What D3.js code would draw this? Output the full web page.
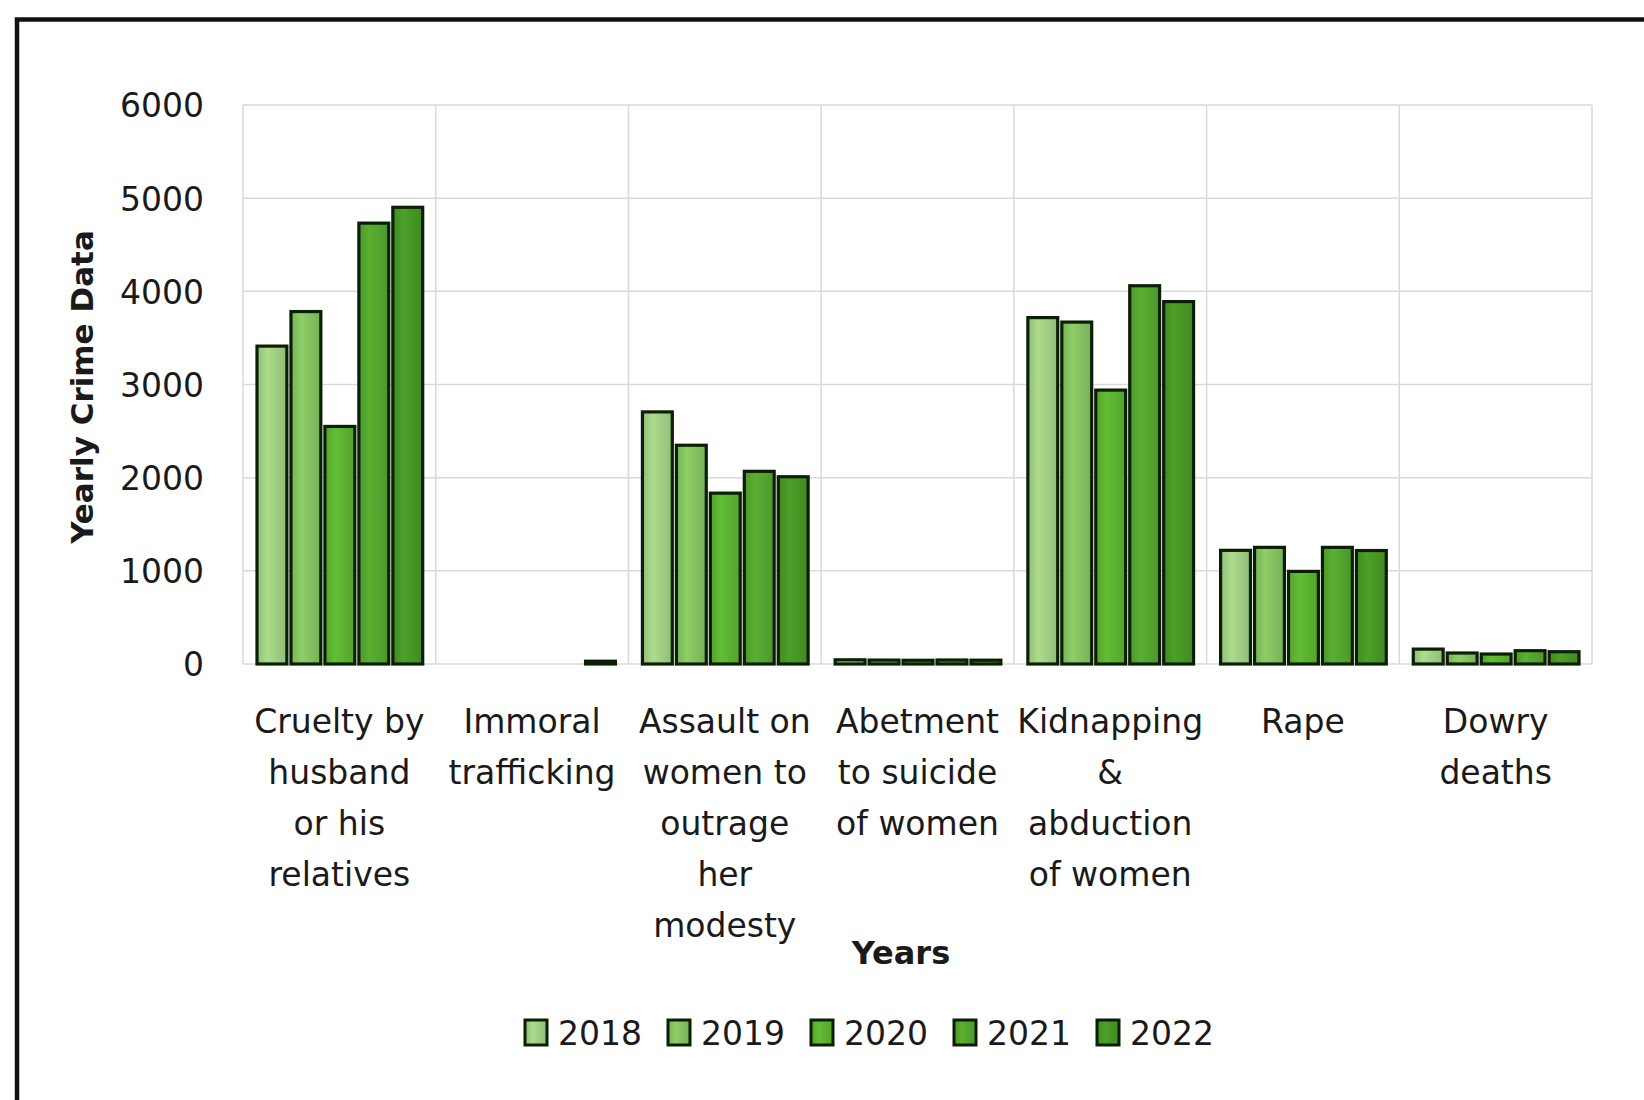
<!DOCTYPE html>
<html>
<head>
<meta charset="utf-8">
<script src="https://cdn.jsdelivr.net/npm/d3@7"></script>
<style>
  html, body { margin: 0; padding: 0; background: #ffffff; }
  svg { display: block; }
  text { font-family: "DejaVu Sans", sans-serif; fill: #1a1a1a; }
</style>
</head>
<body>
<svg id="chart" width="1644" height="1100"></svg>
<script>
// ---- data ----
const categories = [
  "Cruelty by husband or his relatives",
  "Immoral trafficking",
  "Assault on women to outrage her modesty",
  "Abetment to suicide of women",
  "Kidnapping & abduction of women",
  "Rape",
  "Dowry deaths"
];
const categoryLines = [
  ["Cruelty by", "husband", "or his", "relatives"],
  ["Immoral", "trafficking"],
  ["Assault on", "women to", "outrage", "her", "modesty"],
  ["Abetment", "to suicide", "of women"],
  ["Kidnapping", "&", "abduction", "of women"],
  ["Rape"],
  ["Dowry", "deaths"]
];
const years = ["2018", "2019", "2020", "2021", "2022"];
const values2018 = [3412, 0, 2706, 45, 3718, 1220, 160];
const values2019 = [3783, 0, 2348, 42, 3670, 1252, 118];
const values2020 = [2550, 0, 1834, 40, 2940, 994, 107];
const values2021 = [4732, 0, 2068, 43, 4060, 1252, 143];
const values2022 = [4902, 30, 2010, 41, 3890, 1218, 132];
const seriesValues = [values2018, values2019, values2020, values2021, values2022];
const yTicks = [0, 1000, 2000, 3000, 4000, 5000, 6000];
const yTitle = "Yearly Crime Data";
const xTitle = "Years";
const colors = ["#a2d184", "#86c462", "#5db431", "#55a72f", "#489826"];

// ---- layout ----
const svg = d3.select("#chart");
const plot = { left: 243, right: 1592, top: 105, bottom: 664 };

// frame
svg.append("path")
  .attr("d", "M17,1110 V19.5 H1650")
  .attr("fill", "none")
  .attr("stroke", "#111")
  .attr("stroke-width", 4.5);

const x0 = d3.scaleBand().domain(categories).range([plot.left, plot.right]).padding(0);
const x1 = d3.scaleBand().domain(years).range([14, x0.bandwidth() - 13]).paddingInner(0.12);
const y = d3.scaleLinear().domain([0, 6000]).range([plot.bottom, plot.top]);

// gradients
const defs = svg.append("defs");
years.forEach((yr, i) => {
  const c = d3.color(colors[i]);
  const g = defs.append("linearGradient").attr("id", "g" + yr)
    .attr("x1", "0%").attr("x2", "100%").attr("y1", "0%").attr("y2", "0%");
  g.append("stop").attr("offset", "0%").attr("stop-color", c.darker(0.3));
  g.append("stop").attr("offset", "35%").attr("stop-color", c.brighter(0.15));
  g.append("stop").attr("offset", "100%").attr("stop-color", c.darker(0.3));
});

// horizontal gridlines
svg.append("g")
  .selectAll("line").data(yTicks).join("line")
  .attr("x1", plot.left).attr("x2", plot.right)
  .attr("y1", d => y(d)).attr("y2", d => y(d))
  .attr("stroke", "#d9d9d9").attr("stroke-width", 1.5);

// vertical gridlines at category boundaries
const bounds = categories.map(c => x0(c)).concat([plot.right]);
svg.append("g")
  .selectAll("line").data(bounds).join("line")
  .attr("x1", d => d).attr("x2", d => d)
  .attr("y1", plot.top).attr("y2", plot.bottom)
  .attr("stroke", "#d9d9d9").attr("stroke-width", 1.5);

// y axis tick labels
const yAxis = d3.axisLeft(y).tickValues(yTicks).tickSize(0).tickPadding(0).tickFormat(d3.format("d"));
const gy = svg.append("g").attr("transform", `translate(${plot.left - 39},0)`).call(yAxis);
gy.select(".domain").remove();
gy.selectAll("text")
  .style("font-family", "DejaVu Sans, sans-serif")
  .style("font-size", "33px")
  .attr("fill", "#1a1a1a")
  .attr("dy", "0.36em");

// bars
const groups = svg.append("g").selectAll("g").data(categories).join("g")
  .attr("transform", d => `translate(${x0(d)},0)`);
groups.selectAll("rect")
  .data((c, ci) => years.map((yr, si) => ({ yr, v: seriesValues[si][ci] })).filter(d => d.v > 0))
  .join("rect")
  .attr("x", d => x1(d.yr))
  .attr("width", x1.bandwidth())
  .attr("y", d => y(d.v))
  .attr("height", d => Math.max(0, y(0) - y(d.v)))
  .attr("fill", d => `url(#g${d.yr})`)
  .attr("stroke", "#0a1f05")
  .attr("stroke-width", 3.2);

// category labels
const lab = svg.append("g").selectAll("text").data(categories).join("text")
  .attr("text-anchor", "middle")
  .style("font-size", "33px");
lab.each(function (c, i) {
  const t = d3.select(this);
  categoryLines[i].forEach((ln, k) => {
    t.append("tspan")
      .attr("x", x0(c) + x0.bandwidth() / 2)
      .attr("y", 733 + k * 51)
      .text(ln);
  });
});

// axis titles
svg.append("text")
  .attr("transform", "translate(93,387) rotate(-90)")
  .attr("text-anchor", "middle")
  .style("font-size", "31px").style("font-weight", "bold")
  .text(yTitle);
svg.append("text")
  .attr("x", 901).attr("y", 964)
  .attr("text-anchor", "middle")
  .style("font-size", "32px").style("font-weight", "bold")
  .text(xTitle);

// legend
const legend = svg.append("g").selectAll("g").data(years).join("g")
  .attr("transform", (d, i) => `translate(${525 + i * 143},1020)`);
legend.append("rect")
  .attr("width", 22).attr("height", 25)
  .attr("fill", d => `url(#g${d})`)
  .attr("stroke", "#0a1f05").attr("stroke-width", 3);
legend.append("text")
  .attr("x", 33).attr("y", 25)
  .style("font-size", "33px")
  .text(d => d);
</script>
</body>
</html>
